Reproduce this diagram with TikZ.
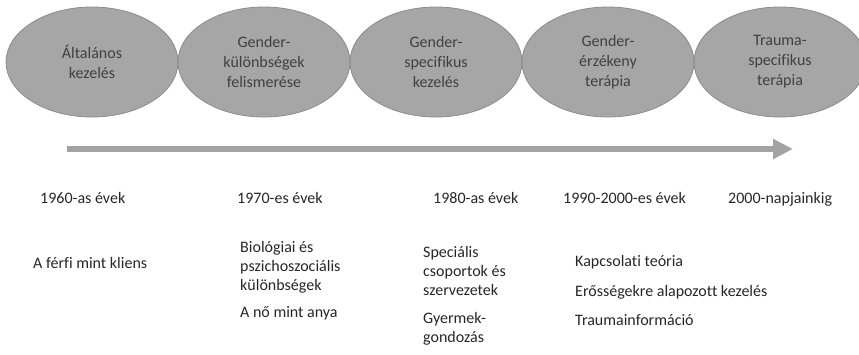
\documentclass[tikz,border=0pt]{standalone}
\usepackage{fontspec}
\setmainfont{Carlito}[Ligatures=NoCommon]
\usetikzlibrary{shapes.geometric,arrows.meta}

\definecolor{fasefill}{HTML}{A6A6A6}
\definecolor{faseline}{HTML}{8C8C8C}
\definecolor{fasetext}{HTML}{404040}
\definecolor{idonyil}{HTML}{A3A3A3}
\definecolor{cimketext}{HTML}{262626}

\tikzset{
    fase/.style={ellipse, draw=faseline, fill=fasefill, line width=0.8pt,
        minimum width=172pt, minimum height=110pt, inner sep=0pt,
        align=center, text=fasetext, font=\fontsize{16}{20}\selectfont},
    cimke/.style={anchor=base west, inner sep=0pt, align=left,
        text=cimketext, font=\fontsize{16}{19}\selectfont},
}

\begin{document}
\begin{tikzpicture}[x=1pt, y=-1pt]

            \useasboundingbox (0,0) rectangle (859,354);

            % fazisok
            \node[fase] (f1) at (92,62) {Általános\\kezelés};
            \node[fase] (f2) at (264,62) {Gender-\\különbségek\\felismerése};
            \node[fase] (f3) at (436,62) {Gender-\\specifikus\\kezelés};
            \node[fase] (f4) at (608,62) {Gender-\\érzékeny\\terápia};
            \node[fase] (f5) at (780,62) {Trauma-\\specifikus\\terápia};

            % idovonal
            \coordinate (ido0) at (67,149);
            \coordinate (ido1) at (793,149);
            \draw[idonyil, line width=6.5pt, -{Triangle[length=20pt,width=19pt]}] (ido0) -- (ido1);

            % evtizedek
            \node[cimke] (ev1) at (40,203) {1960-as évek};
            \node[cimke] (ev2) at (237,203) {1970-es évek};
            \node[cimke] (ev3) at (433,203) {1980-as évek};
            \node[cimke] (ev4) at (563,203) {1990-2000-es évek};
            \node[cimke] (ev5) at (728,203) {2000-napjainkig};

            % temak (tobbsoros: az utolso sor alapvonala)
            \node[cimke] (t1) at (33,268) {A férfi mint kliens};
            \node[cimke] (t2) at (240,290) {Biológiai és\\pszichoszociális\\különbségek};
            \node[cimke] (t3) at (240,317) {A nő mint anya};
            \node[cimke] (t4) at (423,295) {Speciális\\csoportok és\\szervezetek};
            \node[cimke] (t5) at (423,342) {Gyermek-\\gondozás};
            \node[cimke] (t6) at (575,266) {Kapcsolati teória};
            \node[cimke] (t7) at (575,296) {Erősségekre alapozott kezelés};
            \node[cimke] (t8) at (575,325) {Traumainformáció};

        \end{tikzpicture}
\end{document}
